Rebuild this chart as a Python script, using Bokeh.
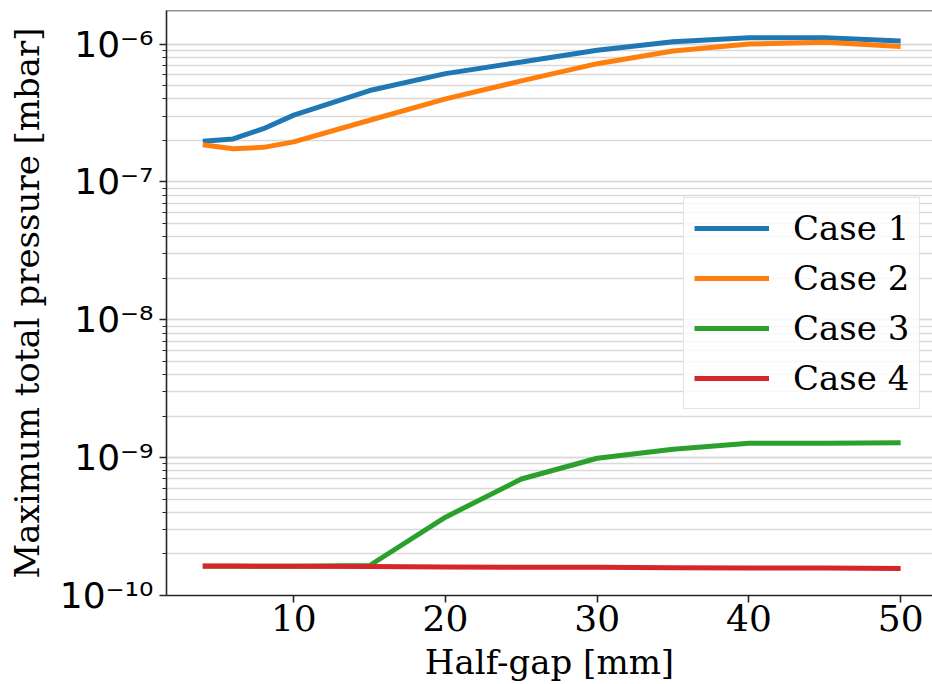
from bokeh.plotting import figure
from bokeh.models import (Range1d, LogTicker, FixedTicker, CustomJSTickFormatter,
                          Legend, LegendItem, Span)
from bokeh.embed import file_html
from bokeh.resources import INLINE

# ---- data ----
half_gap = [4, 6, 8, 10, 15, 20, 25, 30, 35, 40, 45, 50]
case1 = [1.97e-7, 2.05e-7, 2.43e-7, 3.05e-7, 4.6e-7, 6.1e-7, 7.4e-7, 9.0e-7, 1.04e-6, 1.11e-6, 1.11e-6, 1.05e-6]
case2 = [1.86e-7, 1.74e-7, 1.78e-7, 1.95e-7, 2.8e-7, 4.0e-7, 5.4e-7, 7.2e-7, 8.9e-7, 1.0e-6, 1.03e-6, 9.6e-7]
case3 = [1.63e-10, 1.63e-10, 1.63e-10, 1.63e-10, 1.65e-10, 3.7e-10, 7.0e-10, 9.9e-10, 1.15e-9, 1.27e-9, 1.27e-9, 1.28e-9]
case4 = [1.64e-10, 1.64e-10, 1.63e-10, 1.63e-10, 1.62e-10, 1.61e-10, 1.60e-10, 1.60e-10, 1.59e-10, 1.58e-10, 1.58e-10, 1.57e-10]
series_names = ["Case 1", "Case 2", "Case 3", "Case 4"]
series_values = [case1, case2, case3, case4]
colors = ["#1f77b4", "#ff7f0e", "#2ca02c", "#d62728"]
x_ticks = [10, 20, 30, 40, 50]
x_label = "Half-gap [mm]"
y_label = "Maximum total pressure [mbar]"

SERIF = "DejaVu Serif"
SANS = "DejaVu Sans"
AX = "#262626"

p = figure(width=932, height=684, y_axis_type="log",
           x_range=Range1d(1.61, 52.1), y_range=Range1d(1e-10, 1.75e-6),
           output_backend="svg", toolbar_location=None,
           min_border_left=166, min_border_right=0, min_border_top=10, min_border_bottom=89)

p.outline_line_color = None
p.background_fill_color = "white"
p.border_fill_color = "white"

# grid
p.xgrid.grid_line_color = None
p.ygrid.grid_line_color = "#d9d9d9"
p.ygrid.grid_line_width = 1.5
p.ygrid.minor_grid_line_color = "#d9d9d9"
p.ygrid.minor_grid_line_width = 1.5

# y axis
ya = p.yaxis[0]
ya.ticker = LogTicker(num_minor_ticks=10)
ya.formatter = CustomJSTickFormatter(code="""
const sup = {'-':'\u207b','0':'\u2070','1':'\u00b9','2':'\u00b2','3':'\u00b3','4':'\u2074',
             '5':'\u2075','6':'\u2076','7':'\u2077','8':'\u2078','9':'\u2079'};
const e = Math.round(Math.log10(tick));
return '10' + String(e).split('').map(c => sup[c]).join('');
""")
ya.axis_label = y_label
ya.axis_label_text_font = SERIF
ya.axis_label_text_font_style = "normal"
ya.axis_label_text_font_size = "34px"
ya.axis_label_text_color = "black"
ya.axis_label_standoff = 10
ya.major_label_text_font = SANS
ya.major_label_text_font_size = "36px"
ya.major_label_text_color = "black"
ya.major_label_standoff = 6
ya.axis_line_color = AX
ya.axis_line_width = 1.6
ya.major_tick_line_color = AX
ya.major_tick_line_width = 1.6
ya.major_tick_in = 0
ya.major_tick_out = 7
ya.minor_tick_line_color = AX
ya.minor_tick_line_width = 1.2
ya.minor_tick_in = 0
ya.minor_tick_out = 4

# x axis
xa = p.xaxis[0]
xa.ticker = FixedTicker(ticks=x_ticks)
xa.axis_label = x_label
xa.axis_label_text_font = SERIF
xa.axis_label_text_font_style = "normal"
xa.axis_label_text_font_size = "34px"
xa.axis_label_text_color = "black"
xa.axis_label_standoff = 8
xa.major_label_text_font = SERIF
xa.major_label_text_font_size = "36px"
xa.major_label_text_line_height = 0.8
xa.major_label_text_color = "black"
xa.major_label_standoff = 2
xa.axis_line_color = AX
xa.axis_line_width = 1.6
xa.major_tick_line_color = AX
xa.major_tick_line_width = 1.6
xa.major_tick_in = 0
xa.major_tick_out = 7
xa.minor_tick_line_color = None

# top spine
p.add_layout(Span(location=1.75e-6, dimension="width", line_color=AX, line_width=1.6))

items = []
for name, vals, col in zip(series_names, series_values, colors):
    r = p.line(half_gap, vals, line_color=col, line_width=5)
    items.append(LegendItem(label=name, renderers=[r]))

legend = Legend(items=items, location=(517, 186))
legend.label_text_font = SERIF
legend.label_text_font_size = "34px"
legend.label_text_color = "black"
legend.glyph_width = 75
legend.glyph_height = 40
legend.label_height = 40
legend.label_standoff = 24
legend.spacing = 10
legend.padding = 10
legend.margin = 0
legend.border_line_color = "#cccccc"
legend.border_line_width = 1.5
legend.background_fill_color = "white"
legend.background_fill_alpha = 0.8
p.add_layout(legend, "center")

open("out.html", "w").write(file_html(p, INLINE))
